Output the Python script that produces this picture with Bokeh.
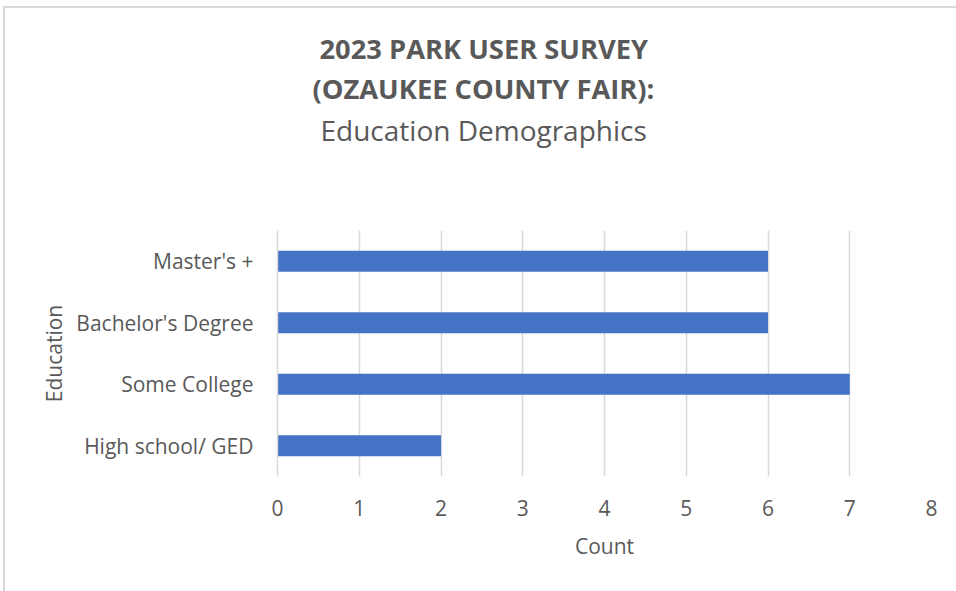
from bokeh.plotting import figure
from bokeh.models import FactorRange, Range1d, Title, FixedTicker
from bokeh.embed import file_html
from bokeh.resources import INLINE

# ---- data ----
categories = ["High school/ GED", "Some College", "Bachelor's Degree", "Master's +"]
counts = [2, 7, 6, 6]
x_ticks = [0, 1, 2, 3, 4, 5, 6, 7, 8]
title_line1 = "2023 PARK USER SURVEY"
title_line2 = "(OZAUKEE COUNTY FAIR):"
subtitle = "Education Demographics"
x_title = "Count"
y_title = "Education"

TEXT = "#595959"
GRID = "#d9d9d9"
FONT = "Open Sans"

p = figure(
    y_range=FactorRange(factors=categories),
    x_range=Range1d(0, 8),
    width=951, height=583,
    frame_width=654, frame_height=246,
    min_border_left=272, min_border_right=25,
    min_border_top=222, min_border_bottom=115,
    output_backend="svg", toolbar_location=None,
    background_fill_color="white", border_fill_color="white",
)
p.styles = {
    "margin-left": "3px", "margin-top": "6px",
    "border-left": "2px solid #d9d9d9", "border-top": "2px solid #d9d9d9",
}
p.outline_line_color = None

p.hbar(y=categories, right=counts, left=0, height=0.34,
       fill_color="#4472C4", line_color=None)

# x axis
xa = p.xaxis[0]
xa.ticker = FixedTicker(ticks=x_ticks)
xa.axis_line_color = None
xa.major_tick_line_color = None
xa.minor_tick_line_color = None
xa.major_tick_out = 0
xa.major_label_standoff = 23
xa.major_label_text_font = FONT
xa.major_label_text_font_size = "21px"
xa.major_label_text_color = TEXT
xa.axis_label = x_title
xa.axis_label_text_font = FONT
xa.axis_label_text_font_size = "21px"
xa.axis_label_text_font_style = "normal"
xa.axis_label_text_color = TEXT
xa.axis_label_standoff = 13

# y axis
ya = p.yaxis[0]
ya.axis_line_color = GRID
ya.axis_line_width = 1.5
ya.major_tick_line_color = None
ya.minor_tick_line_color = None
ya.major_tick_out = 0
ya.major_label_standoff = 24
ya.major_label_text_font = FONT
ya.major_label_text_font_size = "21px"
ya.major_label_text_color = TEXT
ya.axis_label = y_title
ya.axis_label_text_font = FONT
ya.axis_label_text_font_size = "21px"
ya.axis_label_text_font_style = "normal"
ya.axis_label_text_color = TEXT
ya.axis_label_standoff = 5

p.xgrid.grid_line_color = GRID
p.xgrid.grid_line_width = 1.5
p.ygrid.grid_line_color = None

# titles stacked above the frame (first added is closest to the frame)
for txt, off, stand, pad_b, size, style in [
    (subtitle, 43, 4, 80, "28px", "normal"),
    (title_line2, 35, 0, 0, "27.3px", "bold"),
    (title_line1, 42, 2, 0, "27.3px", "bold"),
]:
    p.add_layout(Title(text=txt, align="left", offset=off, standoff=stand,
                       padding=dict(left=0, right=0, top=0, bottom=pad_b),
                       text_font=FONT, text_font_size=size,
                       text_font_style=style, text_color=TEXT), "above")

open("out.html", "w").write(file_html(p, INLINE))
